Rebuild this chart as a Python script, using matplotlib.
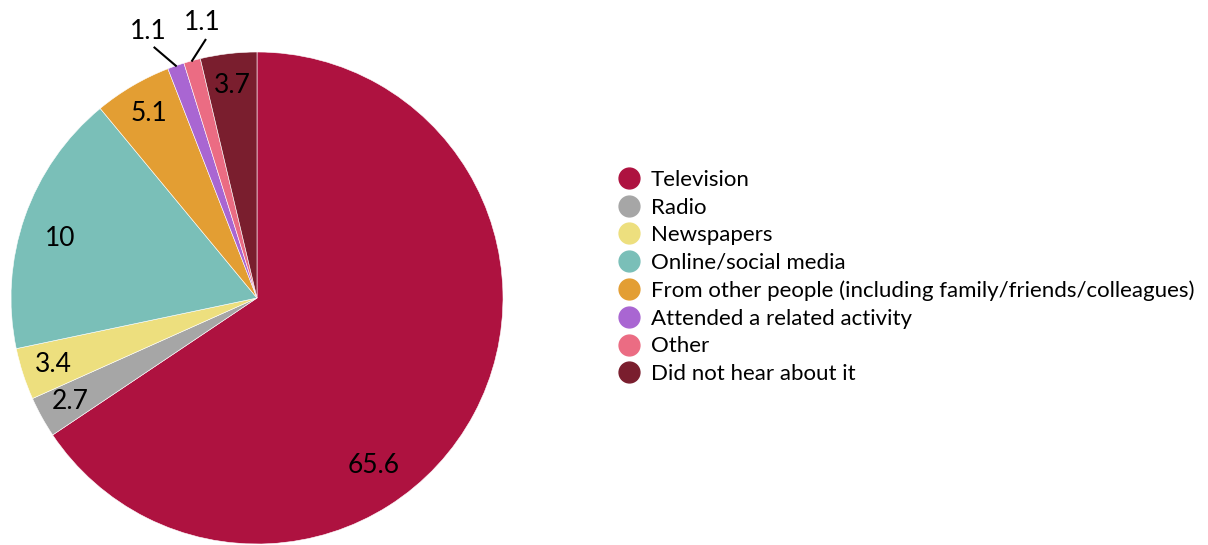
import numpy as np
import matplotlib
matplotlib.use("Agg")
import matplotlib.pyplot as plt
from matplotlib.lines import Line2D

plt.rcParams['font.family'] = ['Lato', 'DejaVu Sans']

categories = ["Television", "Radio", "Newspapers", "Online/social media",
              "From other people (including family/friends/colleagues)",
              "Attended a related activity", "Other", "Did not hear about it"]
# wedge shares as drawn in the picture
shares = [65.6, 2.7, 3.4, 17.3, 5.1, 1.1, 1.1, 3.7]
# label text as printed on the chart
label_text = ["65.6", "2.7", "3.4", "10", "5.1", "1.1", "1.1", "3.7"]
colors = ["#AE1240", "#A6A6A6", "#EDDF7E", "#7ABFB8", "#E39E33",
          "#A966D2", "#EB6C83", "#7A1E2E"]

fig = plt.figure(figsize=(12.08, 5.45), dpi=100)
ax = fig.add_axes([11/1208, 1/545, 492/1208, 492/545])

wedges, _ = ax.pie(shares, colors=colors, startangle=90, counterclock=False,
                   radius=1, wedgeprops=dict(edgecolor='white', linewidth=0.4))
ax.set_xlim(-1, 1)
ax.set_ylim(-1, 1)
ax.set_aspect('equal')
ax.axis('off')

# label placement tweaks: (angle offset in degrees, radius)
label_pos = {0: (-27, 0.83), 3: (2.5, 0.835)}

for i, w in enumerate(wedges):
    mid = np.deg2rad((w.theta1 + w.theta2) / 2)
    off, r = label_pos.get(i, (0, 0.87))
    if i in (5, 6):
        # small slices: label outside with leader line
        off = 3 if i == 5 else -4
        ang = mid + np.deg2rad(off)
        rt = 1.17 if i == 5 else 1.14
        ax.plot([np.cos(mid), (rt - 0.07) * np.cos(ang)],
                [np.sin(mid), (rt - 0.07) * np.sin(ang)],
                color='black', lw=1.5, clip_on=False)
        ax.text(rt * np.cos(ang), rt * np.sin(ang), label_text[i],
                ha='center', va='center', fontsize=19, clip_on=False)
    else:
        ang = mid + np.deg2rad(off)
        ax.text(r * np.cos(ang), r * np.sin(ang), label_text[i],
                ha='center', va='center', fontsize=19)

handles = [Line2D([], [], marker='o', linestyle='none', markersize=15,
                  markerfacecolor=c, markeredgecolor=c) for c in colors]
fig.legend(handles, categories, loc='center left', bbox_to_anchor=(0.504, 1 - 277/545),
           frameon=False, fontsize=16, handlelength=1.0, handletextpad=0.5,
           labelspacing=0.345, borderaxespad=0)

fig.savefig("out.png", dpi=100)
